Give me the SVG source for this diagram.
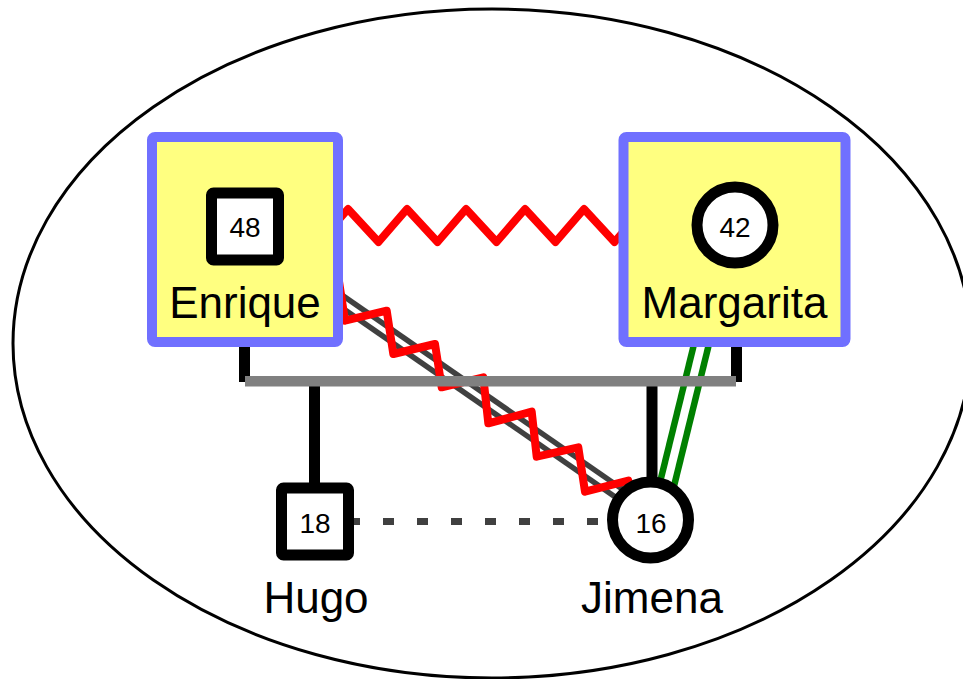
<svg xmlns="http://www.w3.org/2000/svg" width="963" height="679" viewBox="0 0 963 679">
<style>
.box{fill:#FFFF80;stroke:#7070FF;stroke-width:10}
.sym{fill:#FFFFFF;stroke:#000000;stroke-width:11}
.num{font-family:"Liberation Sans",Arial,sans-serif;font-size:28px;fill:#000;text-anchor:middle}
.lbl{font-family:"Liberation Sans",Arial,sans-serif;font-size:44px;fill:#000;text-anchor:middle}
.zig{fill:none;stroke:#FF0000;stroke-width:8;stroke-linejoin:round;stroke-linecap:round}
.blk{stroke:#000;stroke-width:11;fill:none}
</style>
<rect width="963" height="679" fill="#FFFFFF"/>
<ellipse cx="492" cy="343.5" rx="479" ry="334.5" fill="none" stroke="#000" stroke-width="3"/>
<g id="connectors">
  <line class="blk" x1="244.5" y1="340" x2="244.5" y2="382"/>
  <line class="blk" x1="736.5" y1="340" x2="736.5" y2="382"/>
  <line class="blk" x1="314.5" y1="381" x2="314.5" y2="490"/>
  <line class="blk" x1="652" y1="381" x2="652" y2="484"/>
  <g id="green-double">
    <line x1="730.8" y1="225" x2="658.2" y2="520" stroke="#008000" stroke-width="21"/>
    <line x1="730.8" y1="225" x2="658.2" y2="520" stroke="#FFFFFF" stroke-width="8"/>
  </g>
  <g id="gray-double">
    <line x1="245" y1="234.3" x2="650.5" y2="515" stroke="#404040" stroke-width="16"/>
    <line x1="245" y1="234.3" x2="650.5" y2="515" stroke="#FFFFFF" stroke-width="5"/>
  </g>
  <polyline class="zig" points="296.7,287.4 338.4,277.4 345,320.7 386.7,310.7 393.3,354 435,344 441.7,387.3 483.3,377.3 488.3,423.3 531.7,411.7 536.7,456.7 578.3,447.3 585,491.7 628.3,480.7 635,524"/>
  <polyline class="zig" points="319.5,242 348,209 378.5,242 407,209 437.5,242 466,209 496.5,242 525,209 555.5,242 584,209 614.5,242 643,209"/>
  <line x1="245" y1="381.3" x2="736" y2="381.3" stroke="#808080" stroke-width="10.5"/>
  <line x1="315" y1="521.5" x2="650" y2="521.5" stroke="#404040" stroke-width="7" stroke-dasharray="11 23"/>
</g>
<g id="enrique">
  <rect class="box" x="152" y="137" width="186" height="205" rx="3"/>
  <rect class="sym" x="211.5" y="193" width="67" height="67" rx="2"/>
  <text class="num" x="245" y="237">48</text>
  <text class="lbl" x="245" y="318">Enrique</text>
</g>
<g id="margarita">
  <rect class="box" x="623.5" y="137" width="222" height="205" rx="3"/>
  <circle class="sym" cx="735" cy="225" r="38" stroke-width="10"/>
  <text class="num" x="735" y="237">42</text>
  <text class="lbl" x="734.5" y="318">Margarita</text>
</g>
<g id="hugo">
  <rect class="sym" x="281.5" y="488" width="67" height="67" rx="2"/>
  <text class="num" x="315" y="533">18</text>
  <text class="lbl" x="316" y="613">Hugo</text>
</g>
<g id="jimena">
  <circle class="sym" cx="650.5" cy="520" r="38" stroke-width="10"/>
  <text class="num" x="651" y="533">16</text>
  <text class="lbl" x="652" y="613">Jimena</text>
</g>
</svg>
